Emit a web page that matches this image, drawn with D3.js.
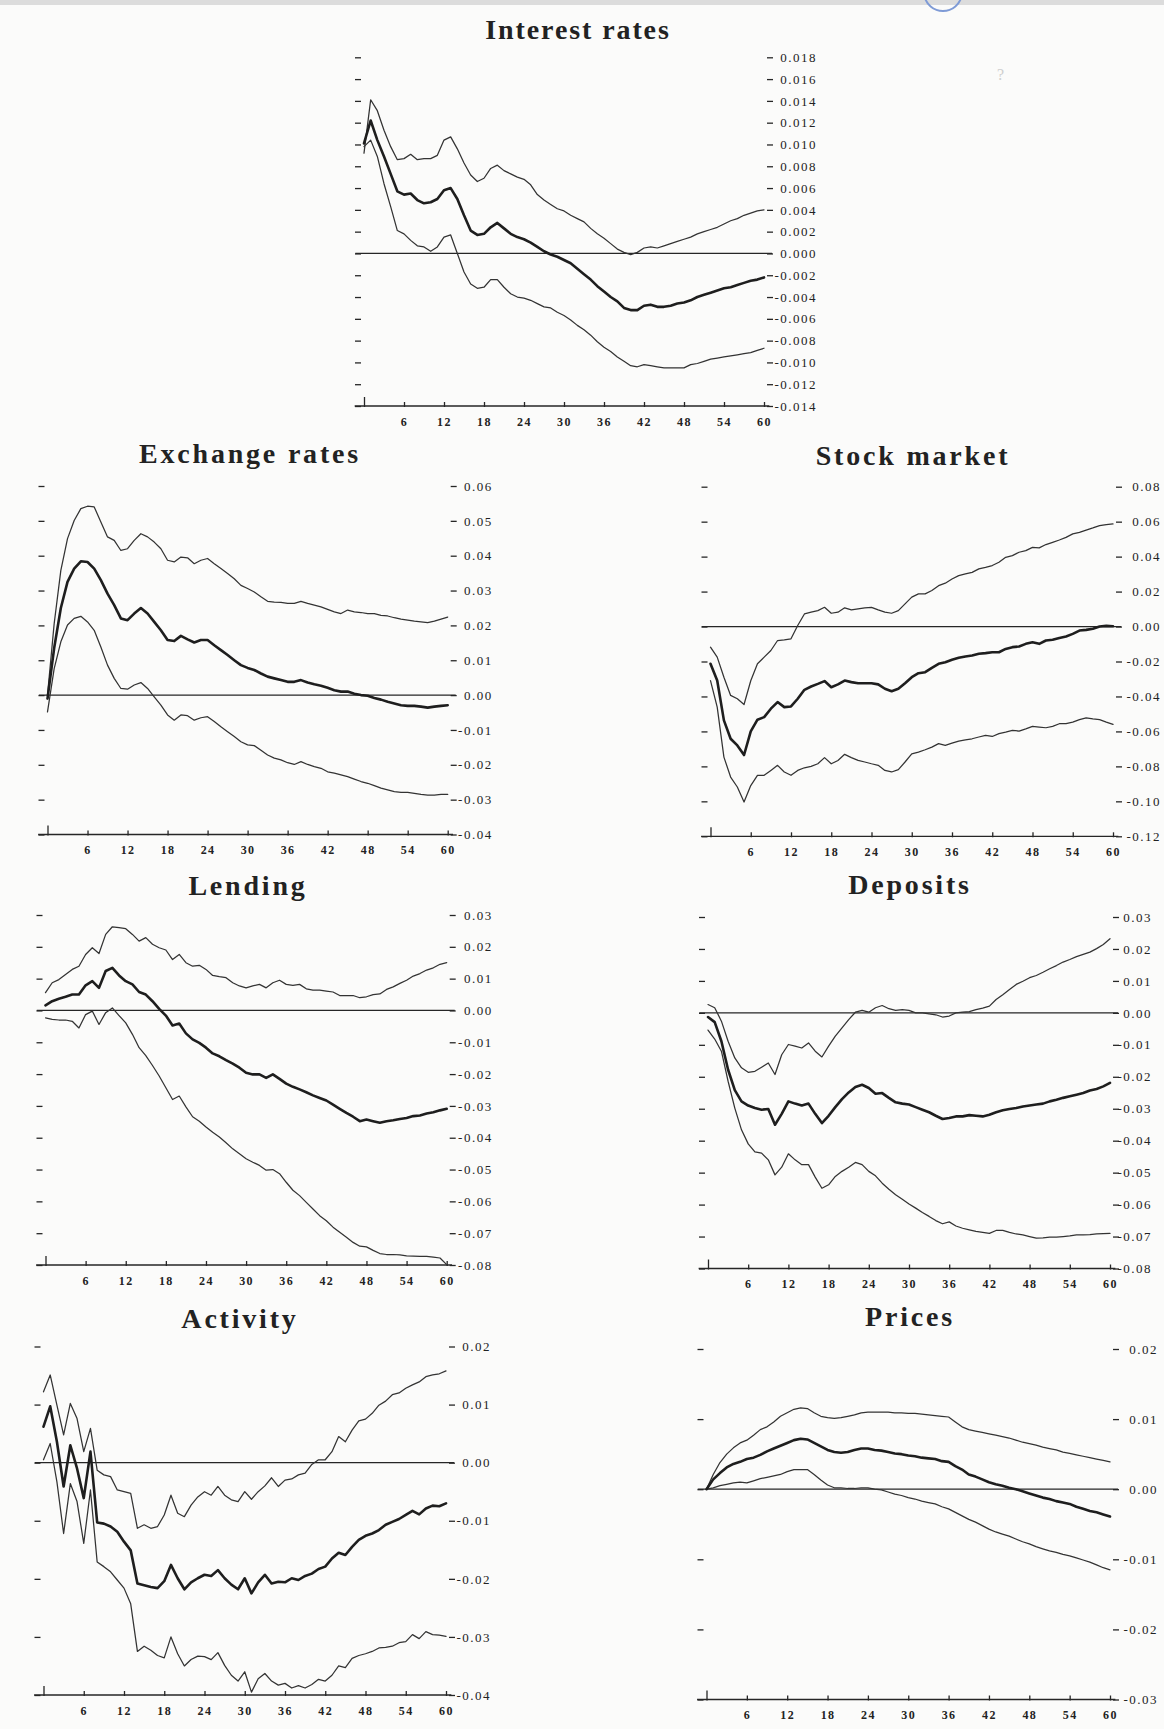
<!DOCTYPE html>
<html>
<head>
<meta charset="utf-8">
<script src="https://cdn.jsdelivr.net/npm/d3@7"></script>
<style>
  html, body { margin: 0; padding: 0; background: #fbfbfa; }
  svg { display: block; }
  text { font-family: "Liberation Serif", "Times New Roman", serif; fill: #222; }
</style>
</head>
<body>
<svg id="chart" width="1164" height="1729"></svg>
<script>
// ---------------- DATA ----------------
const months = [0,1,2,3,4,5,6,7,8,9,10,11,12,13,14,15,16,17,18,19,20,21,22,23,24,25,26,27,28,29,30,31,32,33,34,35,36,37,38,39,40,41,42,43,44,45,46,47,48,49,50,51,52,53,54,55,56,57,58,59,60];
const monthTicks = [0,6,12,18,24,30,36,42,48,54,60];

const interestTicks = [-0.014,-0.012,-0.010,-0.008,-0.006,-0.004,-0.002,0.000,0.002,0.004,0.006,0.008,0.010,0.012,0.014,0.016,0.018];
const exchangeTicks = [-0.04,-0.03,-0.02,-0.01,0.00,0.01,0.02,0.03,0.04,0.05,0.06];
const stockTicks    = [-0.12,-0.10,-0.08,-0.06,-0.04,-0.02,0.00,0.02,0.04,0.06,0.08];
const lendingTicks  = [-0.08,-0.07,-0.06,-0.05,-0.04,-0.03,-0.02,-0.01,0.00,0.01,0.02,0.03];
const depositsTicks = [-0.08,-0.07,-0.06,-0.05,-0.04,-0.03,-0.02,-0.01,0.00,0.01,0.02,0.03];
const activityTicks = [-0.04,-0.03,-0.02,-0.01,0.00,0.01,0.02];
const pricesTicks   = [-0.03,-0.02,-0.01,0.00,0.01,0.02];

const interestUpper = [0.0092,0.0141,0.0131,0.0113,0.0098,0.0086,0.0087,0.0091,0.0086,0.0087,0.0087,0.0090,0.0104,0.0107,0.0096,0.0083,0.0072,0.0066,0.0069,0.0078,0.0081,0.0076,0.0073,0.0070,0.0068,0.0063,0.0054,0.0049,0.0045,0.0041,0.0039,0.0035,0.0032,0.0029,0.0023,0.0018,0.0014,0.0009,0.0004,0.0001,-0.0001,0.0001,0.0005,0.0006,0.0005,0.0007,0.0009,0.0011,0.0013,0.0015,0.0018,0.0020,0.0022,0.0024,0.0027,0.0030,0.0032,0.0035,0.0037,0.0039,0.0040];
const interestMid   = [0.0101,0.0122,0.0104,0.0089,0.0073,0.0057,0.0054,0.0055,0.0049,0.0046,0.0047,0.0050,0.0058,0.0060,0.0050,0.0035,0.0021,0.0017,0.0018,0.0024,0.0028,0.0023,0.0018,0.0015,0.0013,0.0010,0.0006,0.0002,-0.0001,-0.0003,-0.0006,-0.0009,-0.0014,-0.0019,-0.0024,-0.0030,-0.0035,-0.0040,-0.0044,-0.0050,-0.0052,-0.0052,-0.0048,-0.0047,-0.0049,-0.0049,-0.0048,-0.0046,-0.0045,-0.0043,-0.0040,-0.0038,-0.0036,-0.0034,-0.0032,-0.0031,-0.0029,-0.0027,-0.0025,-0.0024,-0.0022];
const interestLower = [0.0098,0.0104,0.0089,0.0064,0.0043,0.0021,0.0018,0.0012,0.0007,0.0006,0.0002,0.0006,0.0015,0.0017,0.0000,-0.0017,-0.0028,-0.0032,-0.0031,-0.0024,-0.0024,-0.0031,-0.0037,-0.0040,-0.0041,-0.0043,-0.0046,-0.0049,-0.0050,-0.0054,-0.0057,-0.0061,-0.0066,-0.0070,-0.0075,-0.0081,-0.0086,-0.0090,-0.0095,-0.0099,-0.0103,-0.0104,-0.0102,-0.0103,-0.0104,-0.0105,-0.0105,-0.0105,-0.0105,-0.0102,-0.0101,-0.0099,-0.0097,-0.0096,-0.0095,-0.0094,-0.0093,-0.0092,-0.0091,-0.0089,-0.0087];

const exchangeUpper = [0,0.0205,0.0358,0.0449,0.0501,0.0535,0.0542,0.054,0.0497,0.0454,0.0444,0.0415,0.042,0.0444,0.0463,0.0454,0.0439,0.042,0.0387,0.0382,0.0396,0.0394,0.0377,0.0387,0.0392,0.0377,0.0363,0.0349,0.0334,0.0315,0.0306,0.0296,0.0282,0.0269,0.0267,0.0266,0.0263,0.0263,0.0269,0.0263,0.0258,0.0253,0.0246,0.0239,0.0234,0.0244,0.0239,0.0237,0.0234,0.0234,0.0229,0.0227,0.0222,0.0218,0.0215,0.0212,0.021,0.0208,0.0212,0.0218,0.0224];
const exchangeMid   = [-0.001,0.0135,0.025,0.0325,0.0363,0.0384,0.0382,0.0363,0.033,0.0291,0.0258,0.022,0.0215,0.0234,0.025,0.0234,0.021,0.0186,0.0158,0.0155,0.017,0.016,0.0151,0.0158,0.0158,0.0143,0.0129,0.0115,0.01,0.0086,0.0078,0.0072,0.0062,0.0053,0.0048,0.0043,0.0038,0.0038,0.0043,0.0036,0.0031,0.0027,0.0021,0.0014,0.001,0.001,0.0004,0,-0.0002,-0.0008,-0.0013,-0.0019,-0.0024,-0.0029,-0.0031,-0.0031,-0.0033,-0.0036,-0.0033,-0.0031,-0.0029];
const exchangeLower = [-0.0048,0.0076,0.0153,0.0201,0.022,0.0226,0.021,0.0186,0.0138,0.0086,0.0048,0.0019,0.0017,0.0029,0.0036,0.0019,-0.0005,-0.0029,-0.0057,-0.0072,-0.0057,-0.0059,-0.0072,-0.0065,-0.0062,-0.0076,-0.0091,-0.0105,-0.0119,-0.0134,-0.0143,-0.0145,-0.0158,-0.0172,-0.0181,-0.0186,-0.0194,-0.0199,-0.0191,-0.0199,-0.0205,-0.021,-0.022,-0.0224,-0.0229,-0.0234,-0.0241,-0.0248,-0.0253,-0.026,-0.0267,-0.0272,-0.0277,-0.0279,-0.0279,-0.0282,-0.0285,-0.0287,-0.0287,-0.0285,-0.0285];

const stockUpper = [-0.0118,-0.0175,-0.029,-0.0394,-0.0413,-0.0446,-0.031,-0.0213,-0.0175,-0.0137,-0.008,-0.0076,-0.007,0.0006,0.0072,0.0082,0.0091,0.011,0.0076,0.0082,0.0107,0.0095,0.0101,0.0107,0.011,0.0095,0.0082,0.0076,0.0091,0.013,0.0168,0.0187,0.0187,0.0206,0.0234,0.0248,0.0272,0.0291,0.0301,0.031,0.033,0.0339,0.0349,0.0368,0.0396,0.0406,0.0425,0.0434,0.0453,0.045,0.0469,0.0482,0.0495,0.051,0.053,0.0539,0.0552,0.0564,0.0577,0.0583,0.0587];
const stockMid   = [-0.0213,-0.0309,-0.0537,-0.0642,-0.068,-0.0735,-0.060,-0.0533,-0.0518,-0.047,-0.0432,-0.0461,-0.0457,-0.0413,-0.0362,-0.0343,-0.0328,-0.0312,-0.0347,-0.0331,-0.0309,-0.0318,-0.0324,-0.0324,-0.0324,-0.0331,-0.0356,-0.037,-0.0356,-0.0324,-0.029,-0.0267,-0.0261,-0.0236,-0.0213,-0.0204,-0.019,-0.0179,-0.0171,-0.0166,-0.0156,-0.0152,-0.0147,-0.0147,-0.0128,-0.0118,-0.0114,-0.0099,-0.009,-0.0099,-0.008,-0.0076,-0.0065,-0.0057,-0.0042,-0.0023,-0.0019,-0.0013,0,0.0004,0.0002];
const stockLower = [-0.0309,-0.0461,-0.0747,-0.0861,-0.0918,-0.1004,-0.091,-0.0851,-0.0851,-0.0823,-0.0794,-0.0832,-0.0851,-0.0823,-0.0808,-0.08,-0.0785,-0.075,-0.0785,-0.0766,-0.0731,-0.075,-0.0766,-0.0775,-0.0785,-0.0794,-0.0823,-0.0832,-0.0819,-0.0775,-0.0728,-0.0718,-0.0705,-0.069,-0.067,-0.068,-0.0667,-0.0655,-0.0648,-0.0642,-0.0632,-0.0623,-0.0629,-0.0613,-0.0604,-0.0594,-0.0598,-0.0585,-0.0571,-0.0575,-0.0579,-0.0571,-0.0556,-0.0556,-0.0547,-0.0533,-0.0522,-0.0528,-0.0533,-0.0547,-0.056];

const lendingUpper = [0.0056,0.0087,0.0097,0.0113,0.0129,0.0139,0.0176,0.0197,0.0179,0.0239,0.0263,0.026,0.0257,0.0239,0.0218,0.0229,0.0208,0.0197,0.019,0.016,0.0176,0.015,0.0139,0.0142,0.0129,0.011,0.0106,0.0103,0.0087,0.0077,0.0071,0.0077,0.0082,0.0071,0.0087,0.0095,0.0082,0.0079,0.0082,0.0068,0.0064,0.0064,0.0061,0.0058,0.0047,0.0047,0.0047,0.004,0.0043,0.005,0.0052,0.0066,0.0074,0.0085,0.0095,0.0108,0.0116,0.0127,0.0134,0.0145,0.015];
const lendingMid   = [0.0016,0.0029,0.0037,0.0043,0.005,0.005,0.0079,0.0092,0.0071,0.0124,0.0134,0.011,0.0092,0.0082,0.0058,0.005,0.0029,0.0005,-0.0016,-0.0047,-0.0041,-0.0072,-0.0091,-0.0102,-0.0117,-0.0135,-0.0144,-0.0156,-0.0167,-0.018,-0.0196,-0.0201,-0.0201,-0.0212,-0.0201,-0.0215,-0.023,-0.024,-0.0248,-0.0257,-0.0267,-0.0275,-0.0283,-0.0296,-0.0309,-0.0322,-0.0334,-0.0348,-0.0343,-0.0348,-0.0353,-0.0348,-0.0345,-0.0341,-0.0338,-0.0332,-0.033,-0.0324,-0.032,-0.0314,-0.0309];
const lendingLower = [-0.0023,-0.0028,-0.003,-0.003,-0.0034,-0.0055,-0.0013,-0.0002,-0.0044,-0.0007,0.0008,-0.0016,-0.0039,-0.0075,-0.0117,-0.0142,-0.0173,-0.0206,-0.0243,-0.028,-0.0269,-0.0303,-0.0334,-0.0348,-0.0366,-0.0383,-0.0398,-0.0416,-0.0435,-0.045,-0.0466,-0.0477,-0.0487,-0.0502,-0.05,-0.0513,-0.054,-0.0565,-0.0582,-0.0603,-0.0624,-0.0645,-0.0661,-0.0681,-0.0697,-0.0713,-0.0729,-0.0741,-0.0743,-0.0754,-0.0764,-0.0767,-0.0767,-0.0768,-0.0771,-0.0772,-0.0773,-0.0773,-0.0775,-0.0778,-0.0799];

const depositsUpper = [0.0026,0.0016,-0.0026,-0.0089,-0.0141,-0.0172,-0.0186,-0.0183,-0.017,-0.0157,-0.0193,-0.0131,-0.0099,-0.0104,-0.011,-0.0094,-0.012,-0.0138,-0.0104,-0.0073,-0.0047,-0.0021,0.0002,0.0008,0.0002,0.0016,0.0023,0.0013,0.0008,0.001,0.0008,0,0,-0.0003,-0.0006,-0.0013,-0.001,0,0.0002,0.0004,0.001,0.0015,0.0021,0.0042,0.0057,0.0073,0.0089,0.0099,0.011,0.0117,0.0127,0.0138,0.0148,0.0159,0.0167,0.0176,0.0183,0.019,0.0201,0.0214,0.0232];
const depositsMid   = [-0.0013,-0.0029,-0.0089,-0.0178,-0.0242,-0.0277,-0.029,-0.0298,-0.0303,-0.0301,-0.035,-0.0316,-0.0277,-0.0284,-0.029,-0.0284,-0.0316,-0.0345,-0.0322,-0.0295,-0.027,-0.0249,-0.0232,-0.0225,-0.0235,-0.0253,-0.0251,-0.0266,-0.028,-0.0284,-0.0287,-0.0295,-0.0303,-0.0311,-0.0322,-0.0332,-0.0329,-0.0324,-0.0324,-0.032,-0.0322,-0.0324,-0.0319,-0.0311,-0.0305,-0.0301,-0.0298,-0.0293,-0.029,-0.0287,-0.0284,-0.0277,-0.0272,-0.0266,-0.0261,-0.0256,-0.0251,-0.0243,-0.0238,-0.023,-0.0219];
const depositsLower = [-0.0054,-0.0082,-0.012,-0.0214,-0.0298,-0.0366,-0.041,-0.0435,-0.0439,-0.046,-0.0507,-0.0483,-0.0441,-0.046,-0.0475,-0.0475,-0.0514,-0.0549,-0.0538,-0.0512,-0.0496,-0.0483,-0.0468,-0.0475,-0.0496,-0.051,-0.0533,-0.0552,-0.0569,-0.0583,-0.0598,-0.0611,-0.0625,-0.0637,-0.065,-0.066,-0.0654,-0.0667,-0.0674,-0.0679,-0.0684,-0.0687,-0.069,-0.0681,-0.0681,-0.0687,-0.0692,-0.0695,-0.07,-0.0705,-0.0704,-0.0702,-0.0702,-0.07,-0.0698,-0.0695,-0.0695,-0.0694,-0.0692,-0.0691,-0.069];

const activityUpper = [0.0122,0.0151,0.0099,0.0048,0.0102,0.0076,0.0019,0.0059,-0.0013,-0.0021,-0.0024,-0.0047,-0.005,-0.0053,-0.0113,-0.0107,-0.0113,-0.011,-0.009,-0.0056,-0.0087,-0.0093,-0.0073,-0.0059,-0.005,-0.0056,-0.0041,-0.0056,-0.0064,-0.0067,-0.005,-0.0063,-0.005,-0.004,-0.0026,-0.0041,-0.003,-0.0028,-0.0021,-0.0018,-0.0003,0.0005,0.0005,0.0019,0.0045,0.0036,0.0056,0.0072,0.0075,0.0085,0.0099,0.0106,0.0117,0.012,0.0128,0.0134,0.0139,0.0148,0.0151,0.0153,0.0158];
const activityMid   = [0.0062,0.0097,0.0036,-0.0041,0.003,-0.001,-0.0061,0.0019,-0.0103,-0.0105,-0.011,-0.0119,-0.0136,-0.0151,-0.0208,-0.0211,-0.0214,-0.0216,-0.0204,-0.0176,-0.0199,-0.0218,-0.0206,-0.0199,-0.0193,-0.0195,-0.0185,-0.0199,-0.021,-0.0218,-0.0199,-0.0225,-0.0206,-0.0193,-0.0208,-0.0205,-0.0206,-0.0199,-0.0202,-0.0195,-0.0191,-0.0183,-0.0179,-0.0165,-0.0155,-0.0159,-0.0145,-0.0133,-0.0126,-0.0122,-0.0116,-0.0107,-0.0102,-0.0097,-0.009,-0.0083,-0.0089,-0.0079,-0.0074,-0.0075,-0.007];
const activityLower = [0.0005,0.0033,-0.0033,-0.0122,-0.0036,-0.0067,-0.0139,-0.0047,-0.0171,-0.0179,-0.0188,-0.0202,-0.0216,-0.0243,-0.0325,-0.0316,-0.0323,-0.0332,-0.0336,-0.03,-0.0329,-0.035,-0.0339,-0.0333,-0.0334,-0.0339,-0.0327,-0.0349,-0.0366,-0.0376,-0.036,-0.0395,-0.0372,-0.0363,-0.0376,-0.0383,-0.038,-0.0388,-0.0384,-0.0388,-0.0382,-0.0373,-0.0376,-0.0366,-0.035,-0.0353,-0.0337,-0.0332,-0.0329,-0.0325,-0.0319,-0.0318,-0.0316,-0.031,-0.0308,-0.0296,-0.0303,-0.0291,-0.0296,-0.0297,-0.0299];

const pricesUpper = [0,0.0021,0.0038,0.005,0.0059,0.0066,0.007,0.0077,0.0085,0.0089,0.0096,0.0104,0.0109,0.0114,0.0116,0.0115,0.0109,0.0104,0.0102,0.0101,0.0102,0.0104,0.0106,0.0109,0.011,0.011,0.011,0.011,0.0109,0.0109,0.0108,0.0108,0.0107,0.0106,0.0105,0.0104,0.0103,0.0096,0.0089,0.0085,0.0083,0.0081,0.0079,0.0077,0.0075,0.0073,0.007,0.0067,0.0065,0.0063,0.006,0.0058,0.0056,0.0053,0.0051,0.0049,0.0047,0.0045,0.0043,0.0041,0.0039];
const pricesMid   = [0,0.0014,0.0023,0.0031,0.0036,0.0039,0.0043,0.0045,0.0049,0.0054,0.0058,0.0062,0.0066,0.007,0.0072,0.0071,0.0066,0.0061,0.0056,0.0053,0.0052,0.0053,0.0056,0.0058,0.0058,0.0056,0.0055,0.0053,0.0051,0.005,0.0048,0.0047,0.0045,0.0044,0.0043,0.004,0.0039,0.0033,0.0028,0.0021,0.0018,0.0014,0.001,0.0007,0.0005,0.0002,0,-0.0003,-0.0006,-0.0009,-0.0012,-0.0014,-0.0017,-0.0019,-0.0021,-0.0025,-0.0028,-0.0031,-0.0033,-0.0036,-0.0039];
const pricesLower = [0,0.0002,0.0005,0.0007,0.0009,0.001,0.0009,0.0012,0.0015,0.0017,0.0019,0.0021,0.0025,0.0028,0.0028,0.0028,0.0021,0.0013,0.0006,0.0002,0.0002,0.0001,0.0001,0.0002,0.0002,0,-0.0001,-0.0004,-0.0007,-0.0009,-0.0012,-0.0014,-0.0017,-0.0019,-0.0021,-0.0025,-0.0028,-0.0033,-0.0038,-0.0043,-0.0047,-0.0052,-0.0057,-0.0061,-0.0064,-0.0067,-0.0071,-0.0075,-0.0078,-0.0082,-0.0085,-0.0088,-0.009,-0.0093,-0.0095,-0.0098,-0.0101,-0.0104,-0.0108,-0.0112,-0.0115];

// ---------------- LAYOUT ----------------
const panels = [
  {title:"Interest rates", tx:578, ty:39,   ls:1.9, left:364,   right:764,  top:57.3,  bottom:406,    ticks:interestTicks, dec:3, lab:53, upper:interestUpper, mid:interestMid, lower:interestLower},
  {title:"Exchange rates", tx:250, ty:463,  ls:2.8, left:47.5,  right:447.7,top:486,   bottom:834.5,  ticks:exchangeTicks, dec:2, lab:45, upper:exchangeUpper, mid:exchangeMid, lower:exchangeLower},
  {title:"Stock market",   tx:913, ty:465,  ls:2.8, left:710.5, right:1113, top:486.7, bottom:836.3,  ticks:stockTicks,    dec:2, lab:48, upper:stockUpper, mid:stockMid, lower:stockLower},
  {title:"Lending",        tx:248, ty:895,  ls:2.8, left:45.5,  right:446.7,top:915,   bottom:1265,   ticks:lendingTicks,  dec:2, lab:46, upper:lendingUpper, mid:lendingMid, lower:lendingLower},
  {title:"Deposits",       tx:910, ty:894,  ls:2.8, left:708,   right:1110, top:917,   bottom:1268.5, ticks:depositsTicks, dec:2, lab:42, upper:depositsUpper, mid:depositsMid, lower:depositsLower},
  {title:"Activity",       tx:240, ty:1328, ls:2.8, left:43.5,  right:446,  top:1346.5,bottom:1695,   ticks:activityTicks, dec:2, lab:45, upper:activityUpper, mid:activityMid, lower:activityLower},
  {title:"Prices",         tx:910, ty:1326, ls:2.8, left:706.5, right:1110, top:1349,  bottom:1699.5, ticks:pricesTicks,   dec:2, lab:48, upper:pricesUpper, mid:pricesMid, lower:pricesLower}
];

const svg = d3.select("#chart");
const INK = "#262626";

// scanner edge at the top
svg.append("rect").attr("x",0).attr("y",0).attr("width",1164).attr("height",5).attr("fill","#dcdcdc");
svg.append("path").attr("d", d3.arc()({innerRadius:18, outerRadius:20, startAngle:Math.PI*0.55, endAngle:Math.PI*1.45}))
   .attr("transform","translate(943,-8)").attr("fill","#7f9bd6");
svg.append("text").attr("x",997).attr("y",80).attr("font-size",16).style("fill","#cfcfcf").text("?");

function fmt(v, dec) {
  const r = Math.abs(v) < 1e-9 ? 0 : v;
  return r.toFixed(dec);
}

panels.forEach(p => {
  const g = svg.append("g");
  const x = d3.scaleLinear().domain([0, 60]).range([p.left, p.right]);
  const y = d3.scaleLinear().domain([p.ticks[0], p.ticks[p.ticks.length - 1]]).range([p.bottom, p.top]);

  // Title
  g.append("text").attr("x", p.tx).attr("y", p.ty).attr("text-anchor","middle")
    .attr("font-size", 28).attr("font-weight","bold").attr("letter-spacing", p.ls + "px").text(p.title);

  // Left tick dashes
  const la = g.append("g").attr("transform", `translate(${p.left - 3},0)`)
    .call(d3.axisLeft(y).tickValues(p.ticks).tickSize(6).tickFormat(""));
  la.select(".domain").remove();
  la.selectAll(".tick line").attr("stroke", INK).attr("stroke-width", 1.3);

  // Right tick dashes + labels
  const ra = g.append("g").attr("transform", `translate(${p.right + 3},0)`)
    .call(d3.axisRight(y).tickValues(p.ticks).tickSize(6).tickFormat(d => fmt(d, p.dec)));
  ra.select(".domain").remove();
  ra.selectAll(".tick line").attr("stroke", INK).attr("stroke-width", 1.3);
  ra.selectAll(".tick text").attr("x", p.lab - 3).attr("text-anchor","end")
    .attr("font-family","Liberation Serif").attr("font-size", 13).attr("letter-spacing","1.5px").attr("fill", INK);

  // Bottom axis (months)
  const ba = g.append("g").attr("transform", `translate(0,${p.bottom})`)
    .call(d3.axisBottom(x).tickValues(monthTicks).tickSize(1).tickPadding(10).tickFormat(d => d === 0 ? "" : d));
  ba.select(".domain").remove();
  ba.selectAll(".tick line").attr("y1", d => d === 0 ? -9 : -4).attr("stroke", INK).attr("stroke-width", 1.3);
  ba.selectAll(".tick text").attr("font-family","Liberation Serif").attr("font-size", 12)
    .attr("letter-spacing","1.4px").attr("font-weight","bold").attr("fill", "#333");
  ba.append("line").attr("x1", x(-1.4)).attr("x2", x(60.8)).attr("y1", 0).attr("y2", 0)
    .attr("stroke", INK).attr("stroke-width", 1.3);

  // zero line
  g.append("line").attr("x1", x(-1.3)).attr("x2", x(61.2)).attr("y1", y(0)).attr("y2", y(0))
    .attr("stroke", INK).attr("stroke-width", 1.3);

  const line = d3.line().x((d, i) => x(months[i])).y(d => y(d));
  [["upper", 1.25], ["lower", 1.25], ["mid", 2.6]].forEach(([k, w]) => {
    g.append("path").datum(p[k]).attr("d", line).attr("fill","none")
      .attr("stroke", k === "mid" ? "#1e1e1e" : "#333").attr("stroke-width", w)
      .attr("stroke-linejoin","round").attr("stroke-linecap","round");
  });
});
</script>
</body>
</html>
